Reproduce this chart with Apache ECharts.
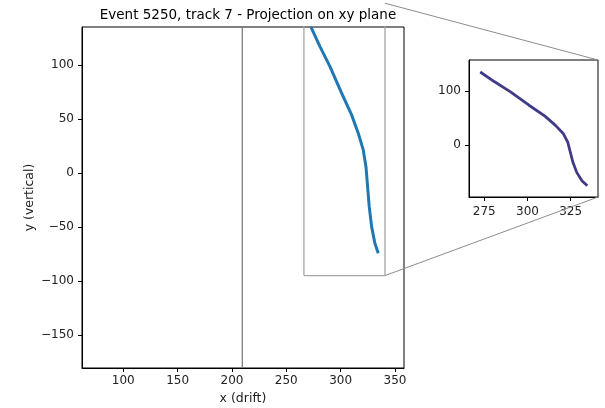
<!DOCTYPE html>
<html>
<head>
<meta charset="utf-8">
<script src="https://cdn.jsdelivr.net/npm/echarts@6/dist/echarts.min.js"></script>
<style>
  html, body { margin: 0; padding: 0; background: #fff; }
  #chart { width: 605px; height: 408px; }
</style>
</head>
<body>
<div id="chart"></div>
<script>
// track points
const trackX = [272.7, 281.0, 290.2, 300.9, 310.1, 316.2, 320.8, 323.3, 324.8, 326.3, 328.5, 331.5, 334.6];
const trackY = [134.9, 116.9, 98.4, 73.8, 53.7, 36.8, 21.3, 5.8, -12.7, -31.2, -49.7, -65.1, -74.4];

// axis limits and ticks
const mainXLim = [62, 358.3];
const mainYLim = [-180.5, 135];
const mainXTicks = [100, 150, 200, 250, 300, 350];
const mainYTicks = [-150, -100, -50, 0, 50, 100];
const insetXLim = [266.2, 340.8];
const insetYLim = [-95, 157];
const insetXTicks = [275, 300, 325];
const insetYTicks = [0, 100];
const driftLineX = 209.5;

const font = 'DejaVu Sans';
const txt = '#222';

const chart = echarts.init(document.getElementById('chart'));

function axis(idx, lim, ticks, margin, extra) {
  return Object.assign({
    type: 'value',
    gridIndex: idx,
    min: lim[0],
    max: lim[1],
    splitLine: { show: false },
    axisLine: { show: true, onZero: false, lineStyle: { color: '#000', width: 1 } },
    axisTick: { show: true, customValues: ticks, length: 4, lineStyle: { color: '#000' } },
    axisLabel: {
      customValues: ticks, color: txt, fontFamily: font, fontSize: 12, margin: margin,
      formatter: v => String(v).replace('-', '\u2212')
    }
  }, extra || {});
}

const pts = trackX.map((x, i) => [x, trackY[i]]);
const rect = [
  [insetXLim[0], insetYLim[0]], [insetXLim[1], insetYLim[0]],
  [insetXLim[1], insetYLim[1]], [insetXLim[0], insetYLim[1]],
  [insetXLim[0], insetYLim[0]]
];

const option = {
  animation: false,
  backgroundColor: '#fff',
  title: {
    text: 'Event 5250, track 7 - Projection on xy plane',
    left: 243, top: 3, textAlign: 'center',
    textStyle: { fontFamily: font, fontSize: 13.5, fontWeight: 'normal', color: '#000' }
  },
  grid: [
    { left: 82, top: 27, width: 322, height: 341, show: true, borderColor: '#000', borderWidth: 1, outerBoundsMode: 'none' },
    { left: 469, top: 60, width: 129, height: 137, show: true, borderColor: '#000', borderWidth: 1, outerBoundsMode: 'none' }
  ],
  xAxis: [
    axis(0, mainXLim, mainXTicks, 7, {
      name: 'x (drift)', nameLocation: 'middle', nameGap: 24, nameMoveOverlap: false,
      nameTextStyle: { fontFamily: font, fontSize: 12.5, color: txt }
    }),
    axis(1, insetXLim, insetXTicks, 9)
  ],
  yAxis: [
    axis(0, mainYLim, mainYTicks, 8, {
      name: 'y (vertical)', nameLocation: 'middle', nameGap: 46, nameMoveOverlap: false,
      nameTextStyle: { fontFamily: font, fontSize: 12.5, color: txt }
    }),
    axis(1, insetYLim, insetYTicks, 8)
  ],
  series: [
    {
      type: 'line', xAxisIndex: 0, yAxisIndex: 0,
      data: [[driftLineX, mainYLim[0]], [driftLineX, mainYLim[1]]],
      showSymbol: false, lineStyle: { color: '#808080', width: 1.3 }, silent: true
    },
    {
      type: 'line', xAxisIndex: 0, yAxisIndex: 0, data: rect, clip: true,
      showSymbol: false, lineStyle: { color: '#a6a6a6', width: 1.3 }, silent: true
    },
    {
      type: 'line', xAxisIndex: 0, yAxisIndex: 0, data: pts,
      showSymbol: false, lineStyle: { color: '#1f77b4', width: 3, join: 'round' }
    },
    {
      type: 'line', xAxisIndex: 1, yAxisIndex: 1, data: pts,
      showSymbol: false, lineStyle: { color: '#3f3b87', width: 2.8, join: 'round' }
    }
  ]
};
chart.setOption(option);

// connector lines from the zoom box corners to the inset corners
const a1 = chart.convertToPixel({ gridIndex: 0 }, [insetXLim[1], insetYLim[1]]);
const b1 = chart.convertToPixel({ gridIndex: 1 }, [insetXLim[1], insetYLim[1]]);
const a2 = chart.convertToPixel({ gridIndex: 0 }, [insetXLim[1], insetYLim[0]]);
const b2 = chart.convertToPixel({ gridIndex: 1 }, [insetXLim[1], insetYLim[0]]);
chart.setOption({
  graphic: [a1, a2].map((a, i) => {
    const b = i === 0 ? b1 : b2;
    return {
      type: 'line', silent: true, z: 100,
      shape: { x1: a[0], y1: a[1], x2: b[0], y2: b[1] },
      style: { stroke: '#8c8c8c', lineWidth: 1 }
    };
  })
});
</script>
</body>
</html>
